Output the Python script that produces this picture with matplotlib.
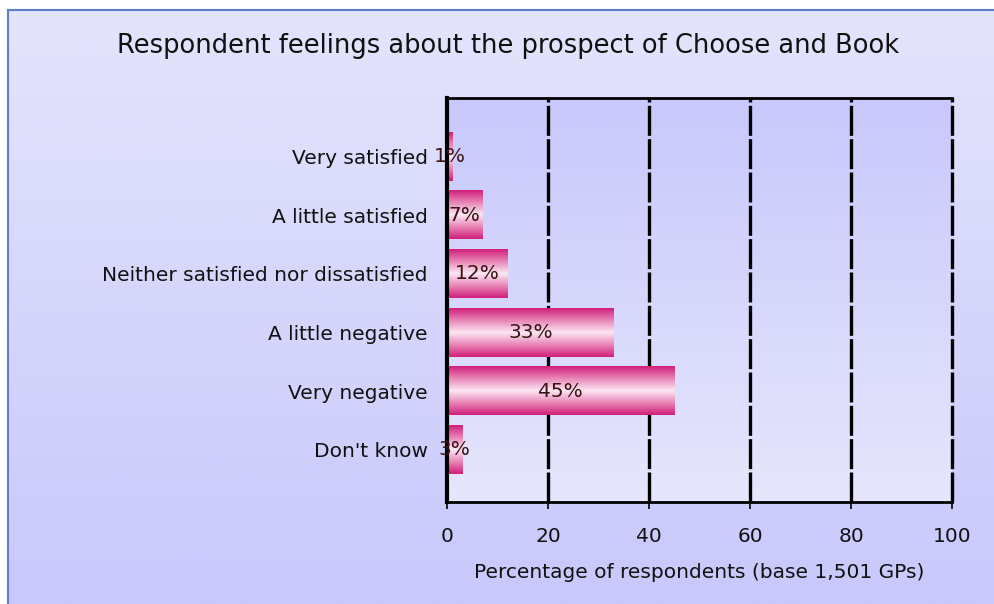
import numpy as np
import matplotlib
matplotlib.use("Agg")
import matplotlib.pyplot as plt
from matplotlib.colors import LinearSegmentedColormap
from matplotlib.lines import Line2D

categories = [
    "Very satisfied",
    "A little satisfied",
    "Neither satisfied nor dissatisfied",
    "A little negative",
    "Very negative",
    "Don't know",
]
values = [1, 7, 12, 33, 45, 3]
x_ticks = [0, 20, 40, 60, 80, 100]

title = "Respondent feelings about the prospect of Choose and Book"
xlabel = "Percentage of respondents (base 1,501 GPs)"

W, H = 995, 604
fig = plt.figure(figsize=(W / 100, H / 100), dpi=100)
fig.patch.set_facecolor("white")

# outer panel with a soft lavender gradient and a thin blue frame
bg = fig.add_axes([8 / W, 0, 1 - 8 / W, 1 - 10 / H])
bg.set_axis_off()
bg_cmap = LinearSegmentedColormap.from_list("bg", ["#e4e4fc", "#c8c8fc"])
bg.imshow(np.linspace(0, 1, 256).reshape(-1, 1), cmap=bg_cmap, aspect="auto",
          extent=[0, 1, 0, 1], origin="upper")
bg.set_xlim(0, 1)
bg.set_ylim(0, 1)
fig.add_artist(Line2D([8 / W, 8 / W], [0, 1 - 10 / H], color="#5b7fc4", lw=1.5))
fig.add_artist(Line2D([8 / W, 1], [1 - 10 / H, 1 - 10 / H], color="#5b7fc4", lw=1.5))

fig.text(508 / W, 1 - 46 / H, title, ha="center", va="center",
         fontsize=18.5, family="DejaVu Sans", color="#111111")

left, right = 447 / W, 952 / W
bottom, top = 1 - 502 / H, 1 - 98 / H
ax = fig.add_axes([left, bottom, right - left, top - bottom])

# plot area gradient (darker at top)
pa_cmap = LinearSegmentedColormap.from_list("pa", ["#c8c8fc", "#e6e6fc"])
ax.imshow(np.linspace(0, 1, 256).reshape(-1, 1), cmap=pa_cmap, aspect="auto",
          extent=[0, 100, 5.89, -1.0], origin="upper", zorder=0)

bar_cmap = LinearSegmentedColormap.from_list(
    "bar", [(0, "#d21f7a"), (0.22, "#e67ab0"), (0.5, "#fbe8f3"),
            (0.78, "#e67ab0"), (1, "#d21f7a")])
grad = np.linspace(0, 1, 128).reshape(-1, 1)
bar_h = 0.82
ypos = np.arange(len(categories))

# vertical dashed gridlines
for t in x_ticks[1:]:
    ax.axvline(t, color="black", lw=2.4, ls=(0, (9, 1)), zorder=1, clip_on=False)

for y, v in zip(ypos, values):
    ax.imshow(grad, cmap=bar_cmap, aspect="auto",
              extent=[0, v, y + bar_h / 2, y - bar_h / 2], origin="upper", zorder=2)
    ax.text(v / 2, y, f"{v}%", ha="center", va="center", fontsize=14.5,
            color="#3a1414", zorder=3)

ax.set_xlim(0, 100)
ax.set_ylim(5.89, -1.0)
ax.set_xticks(x_ticks)
ax.set_xticklabels([str(t) for t in x_ticks], fontsize=14.5, color="#111111")
ax.set_yticks(ypos)
ax.set_yticklabels(categories, fontsize=14.5, color="#111111")
ax.tick_params(axis="y", length=0, pad=14)
ax.tick_params(axis="x", length=5, width=1.2, direction="out", pad=13)
ax.set_xlabel(xlabel, fontsize=14.5, color="#111111", labelpad=12)

for side in ["left", "top", "bottom"]:
    ax.spines[side].set_linewidth(2.0)
    ax.spines[side].set_color("black")
ax.spines["right"].set_visible(False)
ax.spines["left"].set_linewidth(3)

fig.savefig("out.png", dpi=100)
